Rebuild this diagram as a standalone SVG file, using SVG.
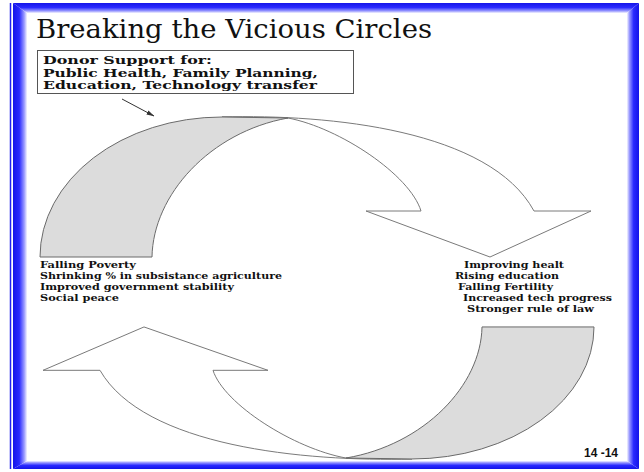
<svg xmlns="http://www.w3.org/2000/svg" width="644" height="472" viewBox="0 0 644 472">
  <defs>
    <linearGradient id="gl" x1="0" y1="0" x2="1" y2="0">
      <stop offset="0" stop-color="#1414e8"/>
      <stop offset="0.45" stop-color="#2a2aff"/>
      <stop offset="0.8" stop-color="#9a9aff"/>
      <stop offset="1" stop-color="#f4f4ff"/>
    </linearGradient>
    <linearGradient id="gr" x1="1" y1="0" x2="0" y2="0">
      <stop offset="0" stop-color="#1414e8"/>
      <stop offset="0.45" stop-color="#2a2aff"/>
      <stop offset="0.8" stop-color="#9a9aff"/>
      <stop offset="1" stop-color="#f4f4ff"/>
    </linearGradient>
    <linearGradient id="gt" x1="0" y1="0" x2="0" y2="1">
      <stop offset="0" stop-color="#1414e8"/>
      <stop offset="0.45" stop-color="#2a2aff"/>
      <stop offset="0.8" stop-color="#9a9aff"/>
      <stop offset="1" stop-color="#f4f4ff"/>
    </linearGradient>
    <linearGradient id="gb" x1="0" y1="1" x2="0" y2="0">
      <stop offset="0" stop-color="#1414e8"/>
      <stop offset="0.45" stop-color="#2a2aff"/>
      <stop offset="0.8" stop-color="#9a9aff"/>
      <stop offset="1" stop-color="#f4f4ff"/>
    </linearGradient>
    <marker id="ah" markerWidth="8" markerHeight="6" refX="7.5" refY="3" orient="auto" markerUnits="userSpaceOnUse">
      <path d="M0,0.8 L8,3 L0,5.2 Z" fill="#333"/>
    </marker>
    <style>
      .serif { font-family: "DejaVu Serif", "Liberation Serif", serif; fill: #111; }
      .bold { font-weight: bold; }
      .list { font-size: 10px; }
      .box-text { font-size: 11px; }
      .front { fill: #ffffff; stroke: #7a7a7a; stroke-width: 1; vector-effect: non-scaling-stroke; }
      .back { fill: #dcdcdc; stroke: #6a6a6a; stroke-width: 1; vector-effect: non-scaling-stroke; }
    </style>
  </defs>

  <rect width="644" height="472" fill="#ffffff"/>

  <g id="frame">
    <polygon points="13,3 27,13 27,461 13,469" fill="url(#gl)"/>
    <polygon points="13,3 639,3 627,13 27,13" fill="url(#gt)"/>
    <polygon points="639,3 639,469 627,461 627,13" fill="url(#gr)"/>
    <polygon points="13,469 639,469 627,461 27,461" fill="url(#gb)"/>
    <line x1="10.5" y1="3" x2="10.5" y2="469" stroke="#2020f0" stroke-width="1.5"/>
  </g>

  <g id="title">
    <text class="serif" x="36" y="38" font-size="26" textLength="396" lengthAdjust="spacingAndGlyphs">Breaking the Vicious Circles</text>
  </g>

  <g id="donor-box">
    <rect x="37.5" y="50.5" width="316" height="43" fill="#ffffff" stroke="#555" stroke-width="1"/>
    <text class="serif bold box-text" x="43" y="64" textLength="169" lengthAdjust="spacingAndGlyphs">Donor Support for:</text>
    <text class="serif bold box-text" x="43" y="76.5" textLength="275" lengthAdjust="spacingAndGlyphs">Public Health, Family Planning,</text>
    <text class="serif bold box-text" x="43" y="89" textLength="274" lengthAdjust="spacingAndGlyphs">Education, Technology transfer</text>
  </g>

  <g id="top-cycle-arrow">
    <path class="front" d="M222,117 C330,114 490,130 534,211 L591,211 L490,257 L366,211 L421,211 C410,175 340,128 288,118 Z"/>
    <path class="back" d="M40,257 A182,140 0 0 1 222,117 L288,118 C210,132 153,195 152,257 Z"/>
  </g>

  <g id="bottom-cycle-arrow" transform="matrix(-1 0 0 -0.943 634 569.3)">
    <path class="front" d="M222,117 C330,114 490,130 534,211 L591,211 L490,257 L366,211 L421,211 C410,175 340,128 288,118 Z"/>
    <path class="back" d="M40,257 A182,140 0 0 1 222,117 L288,118 C210,132 153,195 152,257 Z"/>
  </g>

  <g id="left-list">
    <text class="serif bold list" x="40" y="268" textLength="96" lengthAdjust="spacingAndGlyphs">Falling Poverty</text>
    <text class="serif bold list" x="40" y="279" textLength="242" lengthAdjust="spacingAndGlyphs">Shrinking % in subsistance agriculture</text>
    <text class="serif bold list" x="40" y="290" textLength="194" lengthAdjust="spacingAndGlyphs">Improved government stability</text>
    <text class="serif bold list" x="40" y="301" textLength="79" lengthAdjust="spacingAndGlyphs">Social peace</text>
  </g>

  <g id="right-list">
    <text class="serif bold list" x="464" y="268" textLength="100" lengthAdjust="spacingAndGlyphs">Improving healt</text>
    <text class="serif bold list" x="455" y="279" textLength="104" lengthAdjust="spacingAndGlyphs">Rising education</text>
    <text class="serif bold list" x="458" y="290" textLength="95" lengthAdjust="spacingAndGlyphs">Falling Fertility</text>
    <text class="serif bold list" x="463" y="301" textLength="149" lengthAdjust="spacingAndGlyphs">Increased tech progress</text>
    <text class="serif bold list" x="467" y="312" textLength="127" lengthAdjust="spacingAndGlyphs">Stronger rule of law</text>
  </g>

  <g id="connectors">
    <line x1="122" y1="99" x2="154" y2="116" stroke="#333" stroke-width="1" marker-end="url(#ah)"/>
  </g>

  <g id="page-number">
    <text x="618" y="457" text-anchor="end" font-family="Liberation Sans, Arial, sans-serif" font-weight="bold" font-size="12" fill="#111">14 -14</text>
  </g>
</svg>
